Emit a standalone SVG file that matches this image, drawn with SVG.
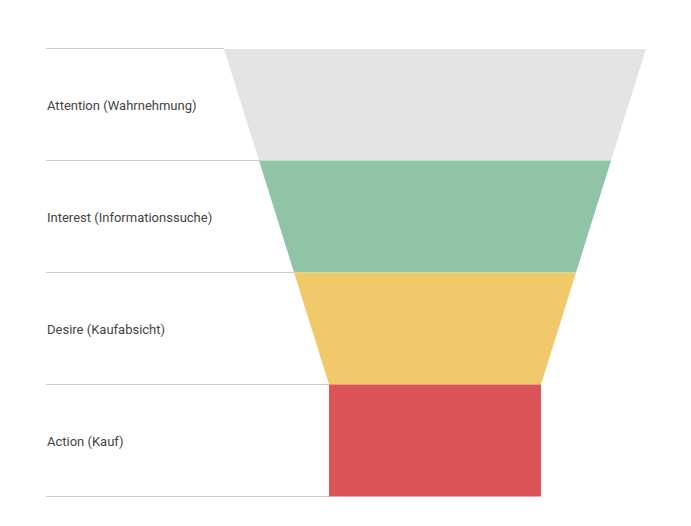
<svg xmlns="http://www.w3.org/2000/svg" width="691" height="526" viewBox="0 0 691 526">
<style>
.grid{stroke:#cccccc;stroke-width:1;fill:none}
.lbl{font-family:Roboto,"Liberation Sans",sans-serif;font-size:13px;font-weight:400;fill:#444444}
</style>
<rect width="691" height="526" fill="#ffffff"/>
<g id="connectors">
<line class="grid" x1="46" y1="48.5" x2="224" y2="48.5"/>
<line class="grid" x1="46" y1="160.5" x2="260" y2="160.5"/>
<line class="grid" x1="46" y1="272.5" x2="295" y2="272.5"/>
<line class="grid" x1="46" y1="384.5" x2="330" y2="384.5"/>
<line class="grid" x1="46" y1="496.5" x2="330" y2="496.5"/>
</g>
<g id="attention">
<polygon points="224,49 646,49 611,160.5 259,160.5" fill="#e4e4e4"/>
<text class="lbl" x="47" y="110">Attention (Wahrnehmung)</text>
</g>
<g id="interest">
<polygon points="259,160.5 611,160.5 576,272.5 294,272.5" fill="#8fc4a6"/>
<text class="lbl" x="47" y="222">Interest (Informationssuche)</text>
</g>
<g id="desire">
<polygon points="294,272.5 576,272.5 541,384.5 329,384.5" fill="#f0ca6a"/>
<text class="lbl" x="47" y="334">Desire (Kaufabsicht)</text>
</g>
<g id="action">
<rect x="329" y="384.5" width="212" height="112" fill="#dc5455"/>
<text class="lbl" x="47" y="446">Action (Kauf)</text>
</g>
</svg>
